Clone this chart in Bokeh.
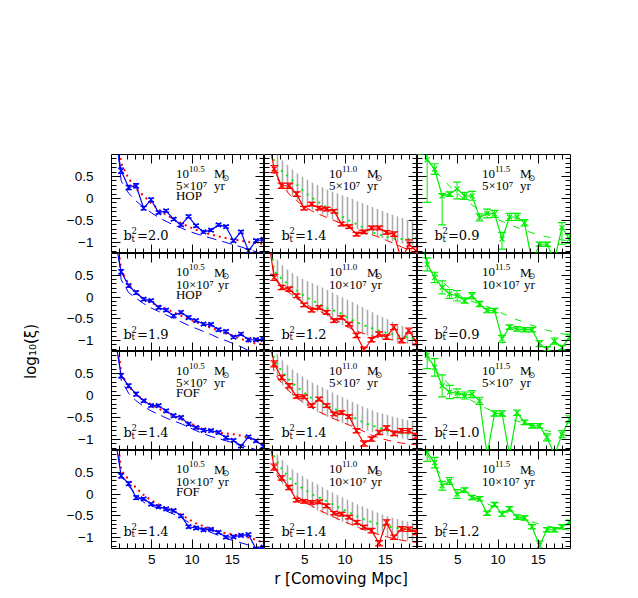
from bokeh.plotting import figure
from bokeh.models import Range1d, LinearAxis, FixedTicker, CustomJSTickFormatter, Label
from bokeh.layouts import gridplot, row
from bokeh.embed import file_html
from bokeh.resources import INLINE

# ---------------- data ----------------
r = [0.27, 1.2, 2.13, 3.06, 3.99, 4.92, 5.85, 6.78, 7.71, 8.64, 9.57,
     10.5, 11.43, 12.36, 13.29, 14.22, 15.15, 16.08, 17.01, 17.94, 18.87]

x_ticks = [5, 10, 15]
x_minor = [1, 2, 3, 4, 6, 7, 8, 9, 11, 12, 13, 14, 16, 17, 18]
y_ticks = [-1.0, -0.5, 0.0, 0.5]
y_minor = [-1.2, -1.1, -0.9, -0.8, -0.7, -0.6, -0.4, -0.3, -0.2, -0.1,
           0.1, 0.2, 0.3, 0.4, 0.6, 0.7, 0.8, 0.9]

masses = ["10.5", "11.0", "11.5"]
ages = ["5×10⁷", "10×10⁷", "5×10⁷", "10×10⁷"]
finders = ["HOP", "HOP", "FOF", "FOF"]
bias2 = [[2.0, 1.4, 0.9], [1.9, 1.2, 0.9], [1.4, 1.4, 1.0], [1.4, 1.4, 1.2]]

# left column (10^10.5), blue data, red dotted, blue dashed
xi_a1 = [1.6, 0.63, 0.25, 0.29, -0.22, -0.03, -0.32, -0.28, -0.47, -0.6, -0.41, -0.62, -0.76, -0.72, -0.6, -0.64, -0.96, -0.76, -1.19, -0.96, -0.93]
er_a1 = [0.08, 0.06, 0.05, 0.05, 0.04, 0.04, 0.03, 0.03, 0.03, 0.03, 0.03, 0.03, 0.03, 0.03, 0.03, 0.03, 0.03, 0.03, 0.04, 0.03, 0.03]
dot_a1 = [2.0, 0.8, 0.45, 0.22, 0.06, -0.1, -0.25, -0.37, -0.47, -0.56, -0.64, -0.71, -0.77, -0.82, -0.86, -0.9, -0.93, -0.96, -0.99, -1.01, -1.03]
dash_a1 = [2.0, 0.4, 0.12, -0.06, -0.2, -0.32, -0.43, -0.52, -0.6, -0.67, -0.74, -0.8, -0.85, -0.9, -0.95, -1.0, -1.05, -1.1, -1.16, -1.21, -1.26]

xi_a2 = [1.5, 0.58, 0.26, 0.1, -0.05, -0.08, -0.24, -0.3, -0.43, -0.35, -0.47, -0.54, -0.62, -0.63, -0.75, -0.79, -0.92, -0.85, -0.98, -0.98, -0.97]
er_a2 = [0.08, 0.05, 0.04, 0.04, 0.03, 0.03, 0.03, 0.03, 0.03, 0.03, 0.03, 0.03, 0.03, 0.03, 0.03, 0.03, 0.03, 0.03, 0.03, 0.03, 0.03]
dot_a2 = [2.0, 0.62, 0.3, 0.09, -0.03, -0.13, -0.2, -0.27, -0.35, -0.43, -0.5, -0.57, -0.64, -0.71, -0.77, -0.84, -0.89, -0.96, -1.02, -1.07, -1.09]
dash_a2 = [2.0, 0.4, 0.1, -0.03, -0.15, -0.25, -0.33, -0.41, -0.49, -0.57, -0.65, -0.72, -0.79, -0.86, -0.94, -1.0, -1.07, -1.14, -1.23, -1.3, -1.36]

xi_a3 = [1.5, 0.45, 0.22, 0.03, -0.12, -0.23, -0.23, -0.35, -0.46, -0.5, -0.65, -0.73, -0.79, -0.8, -0.84, -0.96, -1.02, -1.15, -0.94, -1.03, -1.15]
er_a3 = [0.08, 0.05, 0.04, 0.04, 0.03, 0.03, 0.03, 0.03, 0.03, 0.03, 0.03, 0.03, 0.03, 0.03, 0.03, 0.03, 0.03, 0.03, 0.03, 0.03, 0.03]
dot_a3 = [2.0, 0.5, 0.2, 0.03, -0.1, -0.2, -0.3, -0.38, -0.46, -0.54, -0.62, -0.69, -0.75, -0.8, -0.84, -0.86, -0.88, -0.91, -0.96, -1.03, -1.1]
dash_a3 = [2.0, 0.35, 0.05, -0.12, -0.25, -0.35, -0.43, -0.51, -0.58, -0.64, -0.72, -0.8, -0.87, -0.93, -0.98, -1.03, -1.08, -1.13, -1.18, -1.23, -1.28]

xi_a4 = [1.5, 0.42, 0.24, -0.08, -0.11, -0.23, -0.29, -0.34, -0.38, -0.5, -0.75, -0.78, -0.82, -0.81, -0.88, -0.99, -0.98, -0.95, -0.93, -1.26, -1.22]
er_a4 = [0.08, 0.05, 0.04, 0.04, 0.03, 0.03, 0.03, 0.03, 0.03, 0.03, 0.03, 0.03, 0.03, 0.03, 0.03, 0.03, 0.03, 0.03, 0.03, 0.03, 0.03]
dot_a4 = [2.0, 0.55, 0.33, 0.14, -0.02, -0.14, -0.24, -0.32, -0.39, -0.47, -0.58, -0.67, -0.74, -0.8, -0.86, -0.9, -0.93, -0.96, -1.0, -1.05, -1.12]
dash_a4 = [2.0, 0.4, 0.18, 0.0, -0.19, -0.27, -0.33, -0.39, -0.46, -0.54, -0.65, -0.74, -0.82, -0.88, -0.95, -1.02, -1.07, -1.12, -1.17, -1.23, -1.29]

# middle column (10^11.0), red data, green dotted, red dashed, grey band
xi_b1 = [1.6, 0.67, 0.29, 0.29, 0.1, -0.22, -0.13, -0.22, -0.24, -0.29, -0.58, -0.64, -0.81, -0.76, -0.67, -0.67, -0.77, -0.81, -1.4, -1.04, -1.2]
er_b1 = [0.1, 0.08, 0.06, 0.06, 0.05, 0.04, 0.04, 0.04, 0.04, 0.04, 0.04, 0.04, 0.04, 0.04, 0.04, 0.04, 0.04, 0.05, 0.1, 0.1, 0.1]
dot_b1 = [2.0, 0.82, 0.63, 0.48, 0.32, 0.15, 0.02, -0.09, -0.2, -0.3, -0.4, -0.5, -0.58, -0.67, -0.76, -0.82, -0.87, -0.91, -0.92, -0.92, -0.9]
dash_b1 = [2.0, 0.55, 0.3, 0.1, -0.05, -0.18, -0.28, -0.36, -0.43, -0.5, -0.57, -0.63, -0.7, -0.76, -0.82, -0.88, -0.95, -1.02, -1.1, -1.17, -1.25]
hi_b1 = [1.3, 1.1, 0.88, 0.72, 0.58, 0.47, 0.37, 0.29, 0.21, 0.14, 0.08, 0.02, -0.05, -0.12, -0.19, -0.25, -0.32, -0.38, -0.44, -0.5, -0.55]
lo_b1 = [0.8, 0.55, 0.3, 0.12, -0.03, -0.15, -0.25, -0.33, -0.41, -0.48, -0.55, -0.62, -0.69, -0.75, -0.81, -0.87, -0.93, -0.98, -1.02, -1.05, -1.08]

xi_b2 = [1.6, 0.45, 0.22, 0.18, 0.03, -0.18, -0.3, -0.24, -0.35, -0.54, -0.47, -0.62, -0.88, -1.21, -0.98, -0.85, -0.92, -0.69, -1.0, -0.77, -1.04]
er_b2 = [0.1, 0.07, 0.05, 0.05, 0.04, 0.04, 0.04, 0.04, 0.04, 0.04, 0.04, 0.04, 0.05, 0.06, 0.05, 0.05, 0.05, 0.06, 0.05, 0.06, 0.06]
dot_b2 = [2.0, 0.6, 0.42, 0.28, 0.15, 0.03, -0.07, -0.16, -0.25, -0.31, -0.38, -0.49, -0.58, -0.65, -0.71, -0.77, -0.82, -0.86, -0.9, -0.93, -0.96]
dash_b2 = [2.0, 0.48, 0.25, 0.1, -0.03, -0.14, -0.24, -0.32, -0.4, -0.5, -0.6, -0.7, -0.78, -0.84, -0.89, -0.93, -0.96, -0.99, -1.03, -1.06, -1.09]
hi_b2 = [1.2, 0.95, 0.75, 0.6, 0.49, 0.4, 0.32, 0.25, 0.18, 0.09, 0.0, -0.08, -0.16, -0.25, -0.34, -0.43, -0.5, -0.58, -0.66, -0.74, -0.81]
lo_b2 = [0.7, 0.45, 0.22, 0.07, -0.06, -0.17, -0.27, -0.35, -0.43, -0.53, -0.63, -0.73, -0.81, -0.86, -0.91, -0.95, -0.98, -1.01, -1.05, -1.08, -1.11]

xi_b3 = [1.6, 0.72, 0.41, 0.22, -0.02, -0.03, -0.23, -0.08, -0.23, -0.42, -0.39, -0.48, -0.8, -1.09, -0.99, -0.84, -0.74, -0.86, -0.8, -0.8, -0.92]
er_b3 = [0.1, 0.07, 0.05, 0.05, 0.04, 0.04, 0.04, 0.04, 0.04, 0.04, 0.04, 0.04, 0.05, 0.06, 0.05, 0.05, 0.05, 0.05, 0.05, 0.05, 0.06]
dot_b3 = [2.0, 0.8, 0.55, 0.36, 0.2, 0.07, -0.06, -0.15, -0.22, -0.3, -0.37, -0.45, -0.53, -0.62, -0.68, -0.73, -0.8, -0.84, -0.86, -0.87, -0.88]
dash_b3 = [2.0, 0.52, 0.28, 0.1, -0.05, -0.17, -0.27, -0.37, -0.45, -0.53, -0.6, -0.67, -0.74, -0.82, -0.9, -0.96, -1.01, -1.05, -1.08, -1.1, -1.12]
hi_b3 = [1.3, 1.05, 0.82, 0.65, 0.52, 0.41, 0.3, 0.22, 0.14, 0.05, -0.03, -0.11, -0.19, -0.26, -0.33, -0.39, -0.44, -0.49, -0.53, -0.57, -0.61]
lo_b3 = [0.8, 0.5, 0.25, 0.07, -0.08, -0.2, -0.3, -0.4, -0.48, -0.55, -0.62, -0.68, -0.73, -0.78, -0.83, -0.87, -0.91, -0.95, -0.98, -1.01, -1.03]

xi_b4 = [1.6, 0.62, 0.37, 0.15, -0.14, -0.17, -0.19, -0.18, -0.27, -0.44, -0.46, -0.53, -0.65, -0.76, -0.84, -1.13, -0.65, -0.99, -0.8, -0.81, -0.88]
er_b4 = [0.1, 0.07, 0.05, 0.05, 0.04, 0.04, 0.04, 0.04, 0.04, 0.04, 0.04, 0.04, 0.04, 0.04, 0.05, 0.06, 0.06, 0.05, 0.05, 0.05, 0.05]
dot_b4 = [2.0, 0.85, 0.58, 0.38, 0.22, 0.11, 0.0, -0.08, -0.16, -0.25, -0.34, -0.42, -0.5, -0.58, -0.64, -0.69, -0.74, -0.77, -0.79, -0.81, -0.83]
dash_b4 = [2.0, 0.52, 0.28, 0.11, -0.05, -0.17, -0.27, -0.37, -0.45, -0.53, -0.61, -0.68, -0.75, -0.82, -0.88, -0.93, -0.98, -1.02, -1.06, -1.09, -1.11]
hi_b4 = [1.3, 1.0, 0.8, 0.62, 0.5, 0.39, 0.29, 0.2, 0.11, 0.02, -0.07, -0.15, -0.23, -0.3, -0.37, -0.44, -0.5, -0.55, -0.6, -0.64, -0.68]
lo_b4 = [0.8, 0.5, 0.25, 0.08, -0.08, -0.2, -0.3, -0.4, -0.48, -0.56, -0.63, -0.69, -0.76, -0.82, -0.88, -0.93, -0.97, -1.01, -1.05, -1.08, -1.1]

# right column (10^11.5), green data, green dashed
xi_c1 = [1.5, 0.88, 0.67, 0.06, 0.1, 0.22, 0.06, 0.06, -0.43, -0.34, -0.35, -0.92, -0.42, -0.42, -0.55, -1.45, -1.04, -1.04, -1.4, -0.66, -0.92]
eh_c1 = [0.3, 0.2, 0.12, 0.05, 0.05, 0.15, 0.08, 0.1, 0.08, 0.1, 0.08, 0.15, 0.08, 0.08, 0.07, 0.1, 0.05, 0.05, 0.1, 0.11, 0.1]
el_c1 = [0.5, 0.97, 0.12, 0.66, 0.05, 0.23, 0.08, 0.1, 0.08, 0.1, 0.08, 0.23, 0.08, 0.08, 0.07, 0.2, 0.05, 0.05, 0.2, 0.38, 0.1]
dash_c1 = [2.0, 0.9, 0.65, 0.45, 0.28, 0.12, -0.02, -0.15, -0.26, -0.36, -0.44, -0.52, -0.59, -0.66, -0.72, -0.78, -0.83, -0.87, -0.91, -0.94, -0.97]

xi_c2 = [1.5, 0.75, 0.45, 0.22, 0.07, 0.03, -0.08, 0.03, -0.16, -0.31, -0.31, -0.96, -0.69, -0.73, -0.75, -0.75, -1.07, -1.19, -1.01, -1.16, -0.92]
er_c2 = [0.3, 0.15, 0.12, 0.15, 0.1, 0.12, 0.06, 0.07, 0.06, 0.05, 0.05, 0.08, 0.05, 0.05, 0.05, 0.05, 0.07, 0.05, 0.07, 0.05, 0.07]
dash_c2 = [2.0, 0.8, 0.55, 0.36, 0.2, 0.07, -0.03, -0.1, -0.16, -0.22, -0.29, -0.37, -0.45, -0.52, -0.58, -0.65, -0.7, -0.76, -0.8, -0.84, -0.87]

xi_c3 = [1.5, 0.91, 0.64, 0.22, 0.08, 0.05, 0.0, 0.03, -0.12, -1.35, -0.41, -0.41, -1.35, -0.39, -0.61, -0.69, -0.69, -0.95, -1.35, -0.88, -0.54]
er_c3 = [0.3, 0.3, 0.2, 0.25, 0.15, 0.1, 0.08, 0.08, 0.08, 0.1, 0.06, 0.06, 0.1, 0.06, 0.05, 0.05, 0.05, 0.08, 0.1, 0.08, 0.08]
dash_c3 = [2.0, 0.85, 0.6, 0.4, 0.24, 0.1, -0.02, -0.12, -0.22, -0.3, -0.38, -0.45, -0.52, -0.58, -0.64, -0.7, -0.75, -0.8, -0.84, -0.88, -0.92]

xi_c4 = [1.5, 0.95, 0.72, 0.19, 0.3, 0.0, 0.09, -0.08, -0.11, -0.44, -0.24, -0.46, -0.34, -0.53, -0.55, -0.75, -1.18, -0.82, -0.82, -0.75, -0.65]
er_c4 = [0.3, 0.2, 0.12, 0.1, 0.08, 0.1, 0.05, 0.05, 0.05, 0.05, 0.05, 0.05, 0.05, 0.05, 0.05, 0.05, 0.1, 0.05, 0.05, 0.05, 0.05]
dash_c4 = [2.0, 0.9, 0.62, 0.42, 0.27, 0.14, 0.03, -0.06, -0.14, -0.22, -0.3, -0.38, -0.45, -0.52, -0.58, -0.64, -0.69, -0.73, -0.77, -0.8, -0.83]

BLUE, RED, GREEN, GREY = "#0000ff", "#ff0000", "#00ee00", "#ababab"

panels = [
    [dict(xi=xi_a1, eh=er_a1, el=er_a1, dot=dot_a1, dash=dash_a1),
     dict(xi=xi_b1, eh=er_b1, el=er_b1, dot=dot_b1, dash=dash_b1, hi=hi_b1, lo=lo_b1),
     dict(xi=xi_c1, eh=eh_c1, el=el_c1, dash=dash_c1)],
    [dict(xi=xi_a2, eh=er_a2, el=er_a2, dot=dot_a2, dash=dash_a2),
     dict(xi=xi_b2, eh=er_b2, el=er_b2, dot=dot_b2, dash=dash_b2, hi=hi_b2, lo=lo_b2),
     dict(xi=xi_c2, eh=er_c2, el=er_c2, dash=dash_c2)],
    [dict(xi=xi_a3, eh=er_a3, el=er_a3, dot=dot_a3, dash=dash_a3),
     dict(xi=xi_b3, eh=er_b3, el=er_b3, dot=dot_b3, dash=dash_b3, hi=hi_b3, lo=lo_b3),
     dict(xi=xi_c3, eh=er_c3, el=er_c3, dash=dash_c3)],
    [dict(xi=xi_a4, eh=er_a4, el=er_a4, dot=dot_a4, dash=dash_a4),
     dict(xi=xi_b4, eh=er_b4, el=er_b4, dot=dot_b4, dash=dash_b4, hi=hi_b4, lo=lo_b4),
     dict(xi=xi_c4, eh=er_c4, el=er_c4, dash=dash_c4)],
]

# -------------- layout constants --------------
FW = 153
FH = [99, 98, 99, 98]
TOP = 154
BOTTOM = 42
LEFT = 71
YLAB_W = 40
TOTAL_H = TOP + sum(FH) + BOTTOM

SANS = "Liberation Sans"
SERIF = "Liberation Serif"

minus_fmt = "return tick < 0 ? '\u2212' + String(-tick) : String(tick);"


def add_axis(p, side, labelled, label=None):
    if side in ("below", "above"):
        ticker = FixedTicker(ticks=x_ticks, minor_ticks=x_minor)
    else:
        ticker = FixedTicker(ticks=y_ticks, minor_ticks=y_minor)
    ax = LinearAxis(ticker=ticker, axis_line_color=None,
                    major_tick_in=9, major_tick_out=0,
                    minor_tick_in=5, minor_tick_out=0,
                    major_tick_line_color="black", minor_tick_line_color="black",
                    major_tick_line_width=1, minor_tick_line_width=1)
    if labelled:
        ax.formatter = CustomJSTickFormatter(code=minus_fmt)
        ax.major_label_text_font = SANS
        ax.major_label_text_font_size = "13.5px"
        ax.major_label_text_color = "black"
        ax.major_label_standoff = 18 if side == "left" else 6
    else:
        ax.formatter = CustomJSTickFormatter(code="return '';")
        ax.major_label_text_font_size = "0px"
        ax.major_label_standoff = 0
    if label:
        ax.axis_label = label
        ax.axis_label_text_font = "DejaVu Sans"
        ax.axis_label_text_font_size = "15px"
        ax.axis_label_text_font_style = "normal"
        ax.axis_label_text_color = "black"
        ax.axis_label_standoff = 3
    p.add_layout(ax, side)


def lab(p, x, y, text, size, font=SERIF, dx=0, dy=0):
    p.add_layout(Label(x=x, y=y, text=text, text_font=font, text_font_size=size,
                       text_color="black", x_offset=dx, y_offset=dy,
                       text_baseline="alphabetic", text_align="left"))


def make_panel(ri, ci):
    d = panels[ri][ci]
    p = figure(frame_width=FW, frame_height=FH[ri],
               x_range=Range1d(0, 19), y_range=Range1d(-1.25, 1.0),
               x_axis_type=None, y_axis_type=None,
               output_backend="svg", toolbar_location=None,
               min_border_left=LEFT if ci == 0 else 0,
               min_border_right=10 if ci == 2 else 0,
               min_border_top=TOP if ri == 0 else 0,
               min_border_bottom=BOTTOM if ri == 3 else 0,
               outline_line_color="black", outline_line_width=1,
               background_fill_color="white", border_fill_color="white")
    add_axis(p, "below", ri == 3, "r [Comoving Mpc]" if (ri == 3 and ci == 1) else None)
    add_axis(p, "above", False)
    add_axis(p, "left", ci == 0)
    add_axis(p, "right", False)

    col = [BLUE, RED, GREEN][ci]
    rr = r[1:]
    if "hi" in d:
        p.varea(x=rr, y1=d["lo"][1:], y2=d["hi"][1:], fill_alpha=0,
                hatch_pattern="|", hatch_color=GREY, hatch_weight=1.6, hatch_scale=5)
    if ci == 0:
        p.line(r, d["dash"], line_color=BLUE, line_width=1, line_dash="10 6")
        p.line(r, d["dot"], line_color=RED, line_width=2, line_dash="2 4")
    elif ci == 1:
        p.line(r, d["dash"], line_color=RED, line_width=1, line_dash="8 6")
        p.line(r, d["dot"], line_color=GREEN, line_width=2, line_dash="2 5")
    else:
        p.line(r, d["dash"], line_color=GREEN, line_width=1, line_dash="7 9")

    ys = d["xi"]
    ups = [y + e for y, e in zip(ys, d["eh"])]
    dns = [y - e for y, e in zip(ys, d["el"])]
    cap = 6 if ci == 0 else 8
    p.line(r, ys, line_color=col, line_width=1.2)
    p.segment(x0=r, y0=dns, x1=r, y1=ups, line_color=col, line_width=1)
    p.scatter(r, ups, marker="dash", size=cap, line_color=col, line_width=1.2)
    p.scatter(r, dns, marker="dash", size=cap, line_color=col, line_width=1.2)
    p.scatter(r, ys, marker="x", size=7, line_color=col, line_width=1.2)

    # annotations
    tx = 8.0
    lab(p, tx, 0.566, "10", "13px")
    lab(p, tx, 0.566, masses[ci], "9px", dx=13, dy=5)
    lab(p, tx, 0.566, "M", "13px", dx=38)
    lab(p, tx, 0.566, "\u2299", "8.5px", font="DejaVu Sans", dx=46, dy=-4)
    lab(p, tx, 0.29, ages[ri], "13px")
    lab(p, tx, 0.29, "yr", "13px", dx=38 if ri % 2 == 0 else 42)
    if ci == 0:
        lab(p, tx, 0.064, finders[ri], "13px")
    bx = 1.5 if ci == 0 else 2.1
    lab(p, bx, -0.85, "b", "13px", font="DejaVu Serif")
    lab(p, bx, -0.85, "2", "8.5px", font="DejaVu Serif", dx=8, dy=5)
    lab(p, bx, -0.85, "t", "8.5px", font="DejaVu Serif", dx=8, dy=-3)
    lab(p, bx, -0.85, "=%.1f" % bias2[ri][ci], "13px", font="DejaVu Serif", dx=13.5)
    return p


figs = [[make_panel(ri, ci) for ci in range(3)] for ri in range(4)]
grid = gridplot(figs, toolbar_location=None)

ylab = figure(width=YLAB_W, height=TOTAL_H, x_range=Range1d(0, YLAB_W),
              y_range=Range1d(0, TOTAL_H), x_axis_type=None, y_axis_type=None,
              min_border=0, outline_line_color=None, output_backend="svg",
              toolbar_location=None)
ylab.add_layout(Label(x=30, y=TOTAL_H - 351, text="log\u2081\u2080(\u03be)",
                      text_font="DejaVu Sans", text_font_size="15px", angle=90,
                      angle_units="deg", text_align="center", text_baseline="middle",
                      text_color="black"))

layout = row(ylab, grid)
open("out.html", "w", encoding="utf-8").write(file_html(layout, INLINE, title="xi panels"))
